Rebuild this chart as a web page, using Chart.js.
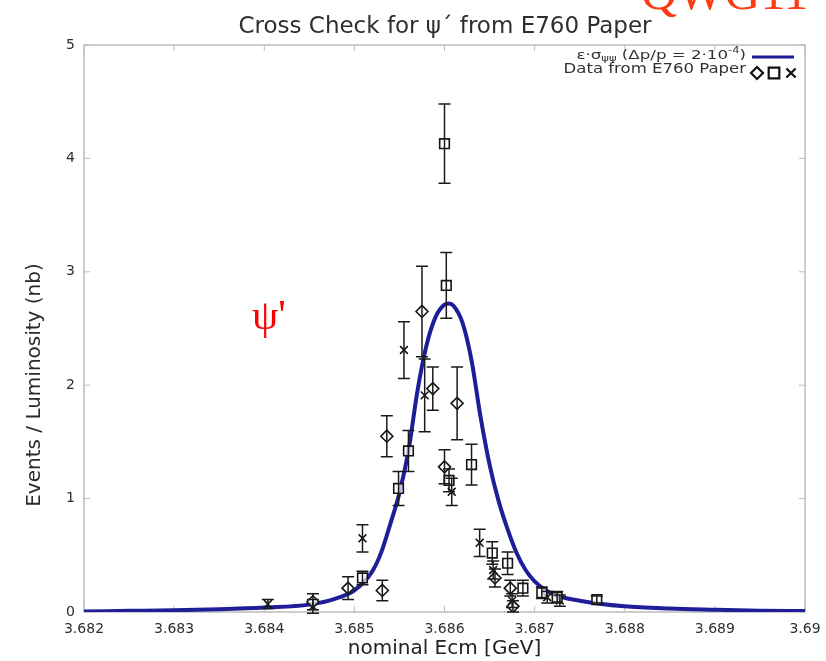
<!DOCTYPE html>
<html>
<head>
<meta charset="utf-8">
<script src="https://cdn.jsdelivr.net/npm/chart.js@4/dist/chart.umd.min.js"></script>
<style>
html,body{margin:0;padding:0;background:#fff;}
#wrap{width:826px;height:661px;position:relative;}
</style>
</head>
<body>
<div id="wrap"><canvas id="c" width="826" height="661"></canvas></div>
<script>
// ---- data ----
const xTickValues = [3.682, 3.683, 3.684, 3.685, 3.686, 3.687, 3.688, 3.689, 3.690];
const xTickLabels = ['3.682', '3.683', '3.684', '3.685', '3.686', '3.687', '3.688', '3.689', '3.69'];
const yTickValues = [0, 1, 2, 3, 4, 5];
const yTickLabels = ['0', '1', '2', '3', '4', '5'];

// fitted curve  e*sigma (dp/p = 2e-4)
const curveX = [3.682, 3.6825, 3.683, 3.6835, 3.684, 3.6845, 3.6848, 3.685, 3.6852, 3.6853, 3.6854, 3.6855, 3.6856, 3.6857, 3.6858, 3.6859, 3.686, 3.68605, 3.6861, 3.6862, 3.6863, 3.6864, 3.6865, 3.6866, 3.6867, 3.6868, 3.6869, 3.687, 3.6872, 3.6875, 3.688, 3.6885, 3.689, 3.6895, 3.690];
const curveY = [0.005, 0.01, 0.015, 0.025, 0.04, 0.065, 0.12, 0.19, 0.36, 0.53, 0.78, 1.05, 1.42, 1.95, 2.35, 2.6, 2.71, 2.72, 2.70, 2.55, 2.22, 1.72, 1.3, 0.98, 0.73, 0.52, 0.37, 0.27, 0.16, 0.1, 0.05, 0.03, 0.02, 0.012, 0.008];

// E760 data: diamonds
const diamondX = [3.68454, 3.68493, 3.68531, 3.68536, 3.68575, 3.68587, 3.68600, 3.68614, 3.68656, 3.68673, 3.68676];
const diamondY = [0.09, 0.21, 0.19, 1.55, 2.65, 1.97, 1.28, 1.84, 0.30, 0.21, 0.05];
const diamondErr = [0.07, 0.10, 0.09, 0.18, 0.40, 0.19, 0.15, 0.32, 0.08, 0.07, 0.05];
// squares
const squareX = [3.68509, 3.68549, 3.68560, 3.68600, 3.68602, 3.68605, 3.68630, 3.68653, 3.68670, 3.68687, 3.68708, 3.68725, 3.68769];
const squareY = [0.30, 1.09, 1.42, 4.13, 2.88, 1.16, 1.30, 0.52, 0.43, 0.21, 0.17, 0.13, 0.11];
const squareErr = [0.06, 0.15, 0.18, 0.35, 0.29, 0.10, 0.18, 0.10, 0.10, 0.07, 0.05, 0.05, 0.03];
// crosses
const crossX = [3.68404, 3.68454, 3.68509, 3.68555, 3.68578, 3.68608, 3.68639, 3.68654, 3.68675, 3.68714, 3.68728];
const crossY = [0.07, 0.05, 0.65, 2.31, 1.91, 1.06, 0.61, 0.37, 0.10, 0.13, 0.10];
const crossErr = [0.04, 0.06, 0.12, 0.25, 0.32, 0.12, 0.12, 0.08, 0.06, 0.05, 0.05];

const toPts = (xs, ys) => xs.map((x, i) => ({x: x, y: ys[i]}));

const CURVE_COLOR = '#1e1e98';
const FRAME = '#bcbcbc';

function stretchedText(ctx, parts, rightX, y, sx) {
  let w = 0;
  parts.forEach(p => { ctx.font = p[1]; w += ctx.measureText(p[0]).width; });
  ctx.save();
  ctx.translate(rightX, y);
  ctx.scale(sx, 1);
  let x = -w;
  ctx.textAlign = 'left';
  parts.forEach(p => { ctx.font = p[1]; ctx.fillText(p[0], x, p[2]); x += ctx.measureText(p[0]).width; });
  ctx.restore();
}

const decor = {
  id: 'decor',
  beforeDatasetsDraw(chart) {
    const ctx = chart.ctx, xs = chart.scales.x, ys = chart.scales.y, a = chart.chartArea;
    ctx.save();
    ctx.strokeStyle = FRAME; ctx.lineWidth = 1.5;
    ctx.strokeRect(a.left, a.top, a.right - a.left, a.bottom - a.top);
    ctx.lineWidth = 1;
    xTickValues.forEach(v => {
      const px = xs.getPixelForValue(v);
      ctx.beginPath();
      ctx.moveTo(px, a.bottom); ctx.lineTo(px, a.bottom - 6);
      ctx.moveTo(px, a.top); ctx.lineTo(px, a.top + 6);
      ctx.stroke();
    });
    yTickValues.forEach(v => {
      const py = ys.getPixelForValue(v);
      ctx.beginPath();
      ctx.moveTo(a.left, py); ctx.lineTo(a.left + 6, py);
      ctx.moveTo(a.right, py); ctx.lineTo(a.right - 6, py);
      ctx.stroke();
    });
    ctx.restore();
  },
  afterDatasetsDraw(chart) {
    const ctx = chart.ctx, xs = chart.scales.x, ys = chart.scales.y;
    ctx.save();
    chart.data.datasets.forEach(ds => {
      if (!ds.errors) return;
      ctx.strokeStyle = '#1a1a1a'; ctx.lineWidth = 1.5;
      ds.data.forEach((p, i) => {
        const e = ds.errors[i];
        const px = xs.getPixelForValue(p.x);
        const y1 = ys.getPixelForValue(p.y + e);
        const y2 = ys.getPixelForValue(p.y - e);
        ctx.beginPath();
        ctx.moveTo(px, y1); ctx.lineTo(px, y2);
        ctx.moveTo(px - 6, y1); ctx.lineTo(px + 6, y1);
        ctx.moveTo(px - 6, y2); ctx.lineTo(px + 6, y2);
        ctx.stroke();
      });
    });
    ctx.restore();
  },
  afterDraw(chart) {
    const ctx = chart.ctx;
    ctx.save();
    ctx.fillStyle = '#2e2e2e';
    ctx.font = '23px "DejaVu Sans"';
    ctx.textAlign = 'center'; ctx.textBaseline = 'middle';
    ctx.fillText('Cross Check for \u03C8\u00B4 from E760 Paper', 445, 27);
    ctx.save();
    ctx.translate(35, 385);
    ctx.rotate(-Math.PI / 2);
    ctx.font = '20px "DejaVu Sans"';
    ctx.fillStyle = '#2a2a2a';
    ctx.fillText('Events / Luminosity (nb)', 0, 0);
    ctx.restore();
    ctx.fillStyle = '#ff3a12';
    ctx.font = '50px "Liberation Serif"';
    ctx.textAlign = 'left'; ctx.textBaseline = 'alphabetic';
    ctx.fillText('QWG11', 641, 9);
    ctx.fillStyle = '#ff0000';
    ctx.font = '42px "Liberation Serif"';
    ctx.fillText('\u03C8\'', 252, 329);
    ctx.fillStyle = '#333';
    ctx.textBaseline = 'middle';
    const f = '13px "DejaVu Sans"', fs = '9px "DejaVu Sans"';
    stretchedText(ctx, [['\u03B5\u00B7\u03C3', f, 0], ['\u03C8\u03C8', fs, 3], [' (\u0394p/p = 2\u00B710', f, 0], ['-4', fs, -5], [')', f, 0]], 746, 56, 1.28);
    stretchedText(ctx, [['Data from E760 Paper', '14px "DejaVu Sans"', 0]], 746, 69, 1.18);
    ctx.strokeStyle = CURVE_COLOR; ctx.lineWidth = 3;
    ctx.beginPath(); ctx.moveTo(752, 57); ctx.lineTo(794, 57); ctx.stroke();
    const h = Chart.helpers;
    ctx.strokeStyle = '#111'; ctx.fillStyle = '#fff'; ctx.lineWidth = 2.2;
    h.drawPoint(ctx, {pointStyle: 'rectRot', radius: 6, rotation: 0, borderWidth: 2.2}, 757, 73);
    h.drawPoint(ctx, {pointStyle: 'rect', radius: 7.5, rotation: 0, borderWidth: 2.2}, 774, 73);
    h.drawPoint(ctx, {pointStyle: 'crossRot', radius: 6.5, rotation: 0, borderWidth: 2.4}, 791, 73);
    ctx.restore();
  }
};

const markerCommon = {
  showLine: false,
  borderColor: '#141414',
  backgroundColor: 'rgba(255,255,255,0.7)',
  pointBorderWidth: 1.6,
  pointHoverRadius: 5
};

new Chart(document.getElementById('c'), {
  type: 'scatter',
  data: {
    datasets: [
      Object.assign({label: 'diamonds', data: toPts(diamondX, diamondY), errors: diamondErr, pointStyle: 'rectRot', pointRadius: 6}, markerCommon),
      Object.assign({label: 'squares', data: toPts(squareX, squareY), errors: squareErr, pointStyle: 'rect', pointRadius: 6.8}, markerCommon),
      Object.assign({label: 'crosses', data: toPts(crossX, crossY), errors: crossErr, pointStyle: 'crossRot', pointRadius: 5.5}, markerCommon),
      {
        label: 'curve', data: toPts(curveX, curveY), showLine: true, pointRadius: 0,
        borderColor: CURVE_COLOR, borderWidth: 4, cubicInterpolationMode: 'monotone', fill: false
      }
    ]
  },
  options: {
    responsive: false,
    animation: false,
    layout: {padding: {top: 45, right: 21, left: 0, bottom: 0}},
    plugins: {legend: {display: false}, tooltip: {enabled: false}, title: {display: false}},
    scales: {
      x: {
        type: 'linear', min: 3.682, max: 3.690,
        afterBuildTicks: s => { s.ticks = xTickValues.map(v => ({value: v})); },
        afterFit: s => { s.height = 49; s.paddingLeft = 0; s.paddingRight = 0; },
        ticks: {callback: (v, i) => xTickLabels[i], font: {family: 'DejaVu Sans', size: 14}, color: '#2e2e2e', padding: 9, maxRotation: 0, autoSkip: false},
        grid: {display: true, drawOnChartArea: false, drawTicks: false, color: 'rgba(0,0,0,0)'},
        border: {display: false},
        title: {display: true, text: 'nominal Ecm [GeV]', font: {family: 'DejaVu Sans', size: 20}, color: '#222', padding: {top: 0, bottom: 0}}
      },
      y: {
        type: 'linear', min: 0, max: 5,
        afterBuildTicks: s => { s.ticks = yTickValues.map(v => ({value: v})); },
        afterFit: s => { s.width = 84; s.paddingTop = 0; s.paddingBottom = 0; },
        ticks: {callback: (v, i) => yTickLabels[i], font: {family: 'DejaVu Sans', size: 14}, color: '#2e2e2e', padding: 9},
        grid: {display: true, drawOnChartArea: false, drawTicks: false, color: 'rgba(0,0,0,0)'},
        border: {display: false},
        title: {display: false}
      }
    }
  },
  plugins: [decor]
});
</script>
</body>
</html>
